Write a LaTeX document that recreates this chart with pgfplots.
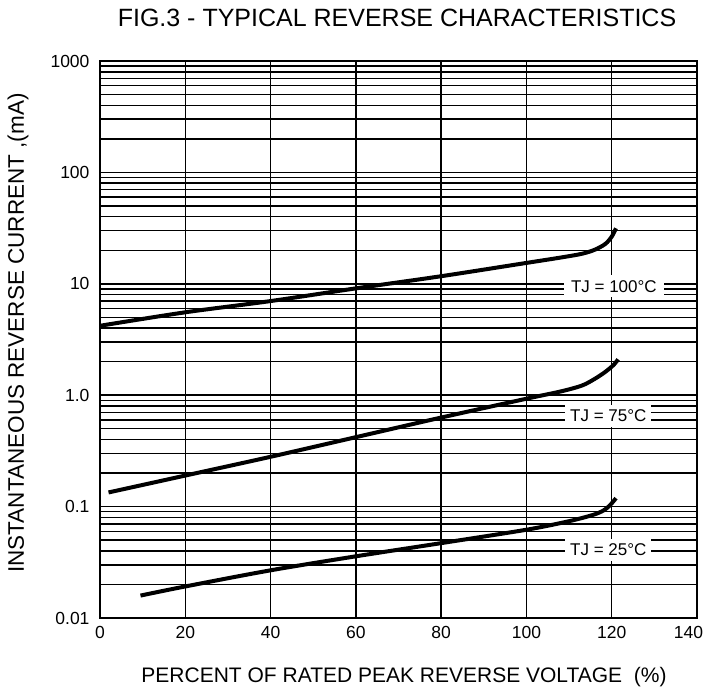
\documentclass[border=0pt]{standalone}
\usepackage{pgfplots}
\pgfplotsset{compat=1.18}
\usepackage{fontspec}
\setmainfont{Liberation Sans}

\begin{document}
\begin{tikzpicture}
  % frame of the whole picture, 1pt ~ 1px of the reference
  \path[use as bounding box] (-100pt,-73pt) rectangle (603pt,618pt);

  \begin{axis}[
    at={(0pt,0pt)}, anchor=south west,
    scale only axis,
    width=597pt, height=557pt,
    xmin=0, xmax=140,
    ymin=0.01, ymax=1000,
    ymode=log,
    xtick={0,20,...,140},
    xticklabels={0,20,40,60,80,100,120,\makebox[12pt][r]{140}},
    ytick={0.01,0.1,1,10,100,1000},
    yticklabels={0.01,0.1,1.0,10,100,1000},
    /pgf/number format/assume math mode=true,
    major tick length=0pt, minor tick length=0pt,
    xmajorgrids, ymajorgrids, yminorgrids,
    major grid style={black, line width=1.5pt},
    minor grid style={black, line width=1.5pt},
    axis line style={black, line width=1.6pt},
    ticklabel style={font=\fontsize{17.5}{20}\selectfont},
    xticklabel style={yshift=-5pt},
    yticklabel style={xshift=-7pt},
  ]
    % TJ = 100 C
    \addplot[black, line width=4pt, smooth, tension=0.5] coordinates {
      (0,4.2) (20,5.55) (40,7.0) (60,9.1) (80,11.7) (100,15.4)
      (108,17.2) (113,18.6) (116,20.2) (118.5,22.8) (120,26.5) (121,31.5)
    };
    % TJ = 75 C
    \addplot[black, line width=4pt, smooth, tension=0.5] coordinates {
      (2,0.134) (20,0.19) (40,0.28) (60,0.42) (80,0.63) (100,0.93)
      (108,1.08) (113,1.22) (116,1.4) (118.5,1.62) (120.5,1.88) (121.5,2.1)
    };
    % TJ = 25 C
    \addplot[black, line width=4pt, smooth, tension=0.5] coordinates {
      (9.5,0.0159) (20,0.0192) (40,0.0268) (60,0.0358) (80,0.047) (100,0.062)
      (110,0.074) (115.5,0.084) (118,0.092) (119.5,0.102) (121,0.119)
    };

    \node[fill=white, inner xsep=7pt, inner ysep=5pt, font=\fontsize{17}{19}\selectfont]
      at (axis cs:120.5,9.5) {TJ = 100°C};
    \node[fill=white, inner xsep=5pt, inner ysep=5pt, font=\fontsize{17}{19}\selectfont]
      at (axis cs:119.2,0.656) {TJ = 75°C};
    \node[fill=white, inner xsep=5pt, inner ysep=5pt, font=\fontsize{17}{19}\selectfont]
      at (axis cs:119.2,0.0408) {TJ = 25°C};
  \end{axis}

  \node[font=\fontsize{25}{28}\selectfont] at (297pt,600pt)
    {FIG.3 - TYPICAL REVERSE CHARACTERISTICS};
  \node[font=\fontsize{21}{24}\selectfont] at (304pt,-59pt)
    {PERCENT OF RATED PEAK REVERSE VOLTAGE\ \ (\%)};
  \node[font=\fontsize{22.5}{25}\selectfont, rotate=90] at (-82pt,285pt)
    {INSTANTANEOUS REVERSE CURRENT ,(mA)};
\end{tikzpicture}
\end{document}
